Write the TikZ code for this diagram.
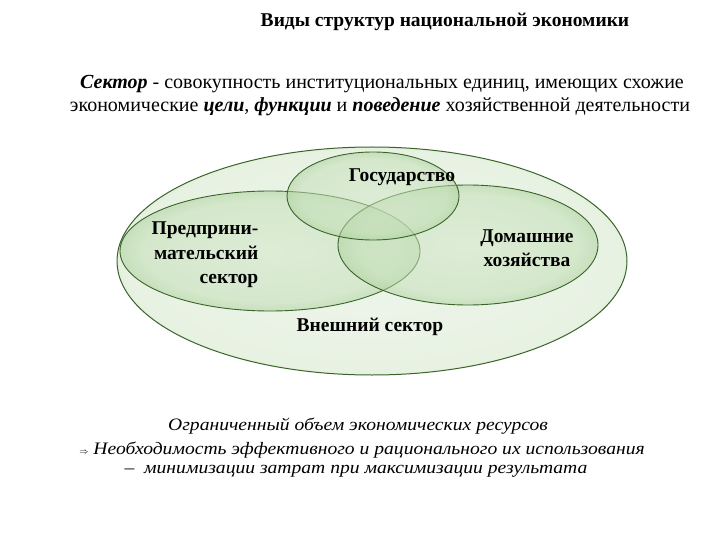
\documentclass[tikz,border=0pt]{standalone}
\usepackage{fontspec}
\setmainfont{Liberation Serif}
\newfontfamily\widefont[FakeStretch=1.12]{Liberation Serif}
\pgfdeclareradialshading{vennouter}{\pgfpoint{0bp}{0bp}}{rgb(0bp)=(0.93,0.96,0.92); rgb(24bp)=(0.91,0.95,0.89); rgb(29bp)=(0.84,0.91,0.80); rgb(33bp)=(0.68,0.81,0.61); rgb(35.4bp)=(0.46,0.66,0.38); rgb(50bp)=(0.46,0.66,0.38)}
\pgfdeclareradialshading{venninner}{\pgfpoint{0bp}{0bp}}{rgb(0bp)=(0.82,0.90,0.78); rgb(21bp)=(0.76,0.87,0.71); rgb(29bp)=(0.58,0.76,0.50); rgb(35.4bp)=(0.26,0.50,0.18); rgb(50bp)=(0.26,0.50,0.18)}
\definecolor{rimgreen}{RGB}{58,100,42}
\begin{document}
\begin{tikzpicture}[x=1pt,y=-1pt,
  outerset/.style={shading=vennouter, draw=rimgreen, line width=1pt},
  innerset/.style={shading=venninner, fill opacity=0.52, draw=rimgreen, draw opacity=1, line width=0.9pt},
  setlabel/.style={font=\bfseries\fontsize{19.5}{24.5}\selectfont, align=center, inner sep=0pt},
  toptext/.style={font=\fontsize{20}{24}\selectfont, inner sep=0pt},
  bottext/.style={font=\widefont\itshape\fontsize{17.5}{20}\selectfont, inner sep=0pt}]
\useasboundingbox (0,0) rectangle (720,540);
\fill[white] (0,0) rectangle (720,540);
% sets
\path[outerset] (372,261) ellipse [x radius=255pt, y radius=114pt];
\path[innerset] (270,251) ellipse [x radius=150pt, y radius=60pt];
\path[innerset] (468,245) ellipse [x radius=130pt, y radius=60pt];
\path[innerset] (373,196) ellipse [x radius=86pt, y radius=44pt];
% texts
\node[font=\bfseries\fontsize{19.5}{22}\selectfont, inner sep=0pt] (title) at (445,22) {Виды структур национальной экономики};
\node[toptext] (def1) at (382,84) {\textbf{\textit{Сектор}} - совокупность институциональных единиц, имеющих схожие};
\node[toptext] (def2) at (380,107) {экономические \textbf{\textit{цели}}, \textbf{\textit{функции}} и \textbf{\textit{поведение}} хозяйственной деятельности};
\node[setlabel] (gos) at (402,177) {Государство};
\node[setlabel, align=right] (pred) at (205,255) {Предприни-\\мательский\\сектор};
\node[setlabel] (dom) at (527,248) {Домашние\\хозяйства};
\node[setlabel] (vnesh) at (370,327) {Внешний сектор};
\node[bottext] (b1) at (358,426) {Ограниченный объем экономических ресурсов};
\node[bottext] (b2) at (362,450) {{\small$\Rightarrow$}\ Необходимость эффективного и рационального их использования};
\node[bottext] (b3) at (356,471) {{\upshape –}\ \ минимизации затрат при максимизации результата};
\end{tikzpicture}
\end{document}
